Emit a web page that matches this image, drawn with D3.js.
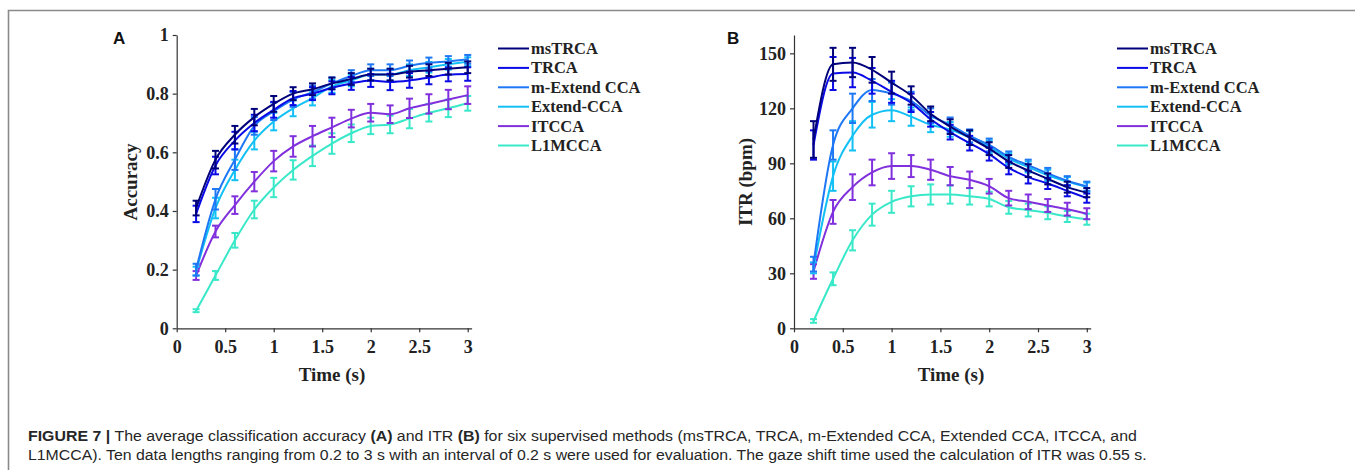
<!DOCTYPE html>
<html><head><meta charset="utf-8">
<script src="https://cdn.jsdelivr.net/npm/d3@7"></script>
<style>html,body{margin:0;padding:0;background:#fff;}svg{display:block;}</style>
</head><body>
<svg id="chart" width="1355" height="470"></svg>
<script>
const times = [0.2,0.4,0.6,0.8,1.0,1.2,1.4,1.6,1.8,2.0,2.2,2.4,2.6,2.8,3.0];
const methods = ["msTRCA","TRCA","m-Extend CCA","Extend-CCA","ITCCA","L1MCCA"];
const colors = ["#00007a","#0a0ae6","#1e78f5","#12c0f5","#8030dc","#38e8c8"];

// Panel A: accuracy
const accMsTRCA = [0.41,0.575,0.66,0.72,0.765,0.80,0.815,0.835,0.85,0.865,0.865,0.875,0.88,0.885,0.89];
const accTRCA   = [0.39,0.555,0.64,0.70,0.745,0.785,0.80,0.82,0.835,0.845,0.84,0.845,0.855,0.865,0.867];
const accMExt   = [0.20,0.44,0.575,0.69,0.74,0.78,0.805,0.835,0.86,0.88,0.88,0.895,0.905,0.91,0.917];
const accExt    = [0.195,0.41,0.54,0.64,0.705,0.75,0.785,0.825,0.845,0.865,0.865,0.88,0.89,0.90,0.909];
const accITCCA  = [0.18,0.33,0.42,0.50,0.57,0.62,0.655,0.685,0.715,0.735,0.73,0.75,0.765,0.78,0.795];
const accL1MCCA = [0.06,0.18,0.30,0.405,0.48,0.54,0.588,0.63,0.665,0.69,0.695,0.715,0.735,0.75,0.767];
const accErrMsTRCA = [0.025,0.03,0.03,0.028,0.027,0.022,0.02,0.02,0.02,0.02,0.02,0.02,0.02,0.02,0.02];
const accErrTRCA   = [0.028,0.03,0.03,0.028,0.027,0.024,0.022,0.022,0.022,0.022,0.028,0.025,0.023,0.023,0.023];
const accErrMExt   = [0.02,0.035,0.035,0.03,0.03,0.025,0.022,0.02,0.02,0.02,0.02,0.018,0.018,0.018,0.015];
const accErrExt    = [0.015,0.035,0.035,0.03,0.03,0.027,0.025,0.022,0.02,0.02,0.02,0.02,0.018,0.018,0.015];
const accErrITCCA  = [0.015,0.02,0.03,0.033,0.035,0.035,0.035,0.033,0.03,0.03,0.03,0.033,0.033,0.033,0.03];
const accErrL1MCCA = [0.005,0.015,0.025,0.03,0.033,0.033,0.035,0.035,0.03,0.028,0.03,0.033,0.03,0.03,0.025];

// Panel B: ITR (bpm)
const itrMsTRCA = [103,144,145,141,134,127,117,110,104,98,91,86,81.5,77,74];
const itrTRCA   = [100,139,139.5,135,129,123,114,107,101,95,87.5,82.5,79,75,71];
const itrMExt   = [35,100,120,130,128,124,116,111,105,100,93.5,89,84.5,80.5,77.5];
const itrExt    = [33,83,105,116.5,119,115.5,111,108.5,104,99,92.5,88,83.5,80,77];
const itrITCCA  = [31,63.5,77,85,88.5,88.5,86.5,83,81,77.5,71,69,67,65,62.5];
const itrL1MCCA = [4,27,48,62,69,72,73,73,72,70.5,66,64.5,63,61,59.5];
const itrErrMsTRCA = [10,9,8,7,6,5,4,4,4,3.5,3.5,3.5,3,3,2.5];
const itrErrTRCA   = [8,9,8,7,6,5,4,4,4,3.5,3.5,3.5,3,3,2.5];
const itrErrMExt   = [4,8,8,6,6,5,4,4,3.5,3.5,3,3,3,2.5,2.5];
const itrErrExt    = [3,8,8,7,6,5,4,4,3.5,3.5,3,3,3,2.5,2.5];
const itrErrITCCA  = [4,6.5,7,7,7,6,5.5,5,4.5,4,4,4,3.5,3.5,3];
const itrErrL1MCCA = [1,3.5,5.5,6,6,5.5,5.5,5,4.5,4,3.5,3.5,3.5,3,3];

const xTicks = [0,0.5,1,1.5,2,2.5,3];
const xTickLabels = ["0","0.5","1","1.5","2","2.5","3"];
const accTicks = [0,0.2,0.4,0.6,0.8,1];
const accTickLabels = ["0","0.2","0.4","0.6","0.8","1"];
const itrTicks = [0,30,60,90,120,150];
const itrTickLabels = ["0","30","60","90","120","150"];

const svg = d3.select("#chart");
const serif = "'Liberation Serif','Times New Roman',serif";
const sans = "'Liberation Sans',Arial,sans-serif";

// frame
svg.append("path").attr("d", d3.line()([[8.5,470],[8.5,10.5],[1355,10.5]]))
  .attr("fill","none").attr("stroke","#8a8a8a").attr("stroke-width",1.6);

function panel(opts){
  const g = svg.append("g");
  const x = d3.scaleLinear().domain([0,3.04]).range(opts.xr);
  const y = d3.scaleLinear().domain(opts.yd).range(opts.yr);
  const xAxis = d3.axisBottom(x).tickValues(xTicks).tickFormat((d,i)=>xTickLabels[i]).tickSize(4).tickPadding(4).tickSizeOuter(0);
  const yAxis = d3.axisLeft(y).tickValues(opts.yTicks).tickFormat((d,i)=>opts.yLabels[i]).tickSize(4).tickPadding(4).tickSizeOuter(0);
  const gx = g.append("g").attr("transform",`translate(0,${opts.yr[0]})`).call(xAxis);
  const gy = g.append("g").attr("transform",`translate(${opts.xr[0]},0)`).call(yAxis);
  [gx,gy].forEach(a=>{
    a.selectAll("path,line").attr("stroke","#333").attr("stroke-width",1.2);
    a.selectAll("text").attr("font-family",serif).attr("font-weight","bold").attr("font-size",18).attr("fill","#222");
  });
  gx.selectAll("text").attr("dy","0.95em");
  // series
  const line = d3.line().x((d,i)=>x(times[i])).y(d=>y(d)).curve(d3.curveMonotoneX);
  const order = [5,4,3,2,1,0];
  order.forEach(k=>{
    const vals = opts.series[k], errs = opts.errs[k], c = colors[k];
    g.append("path").datum(vals).attr("d",line).attr("fill","none").attr("stroke",c).attr("stroke-width",2);
    const eb = g.append("g").attr("stroke",c).attr("stroke-width",2);
    vals.forEach((v,i)=>{
      const cx = x(times[i]), t = y(v+errs[i]), b = y(v-errs[i]);
      eb.append("line").attr("x1",cx).attr("x2",cx).attr("y1",t).attr("y2",b);
      eb.append("line").attr("x1",cx-3.5).attr("x2",cx+3.5).attr("y1",t).attr("y2",t);
      eb.append("line").attr("x1",cx-3.5).attr("x2",cx+3.5).attr("y1",b).attr("y2",b);
    });
  });
  // axis titles
  g.append("text").attr("x",opts.xTitleX).attr("y",381).attr("text-anchor","middle")
    .attr("font-family",serif).attr("font-weight","bold").attr("font-size",19).attr("fill","#222").text("Time (s)");
  g.append("text").attr("transform",`translate(${opts.yTitleX},182) rotate(-90)`).attr("text-anchor","middle")
    .attr("font-family",serif).attr("font-weight","bold").attr("font-size",19).attr("fill","#222").text(opts.yTitle);
  // panel letter
  g.append("text").attr("x",opts.letterX).attr("y",44).attr("font-family",sans).attr("font-weight","bold")
    .attr("font-size",17).attr("fill","#111").text(opts.letter);
  // legend
  const lg = g.append("g");
  methods.forEach((m,k)=>{
    const ly = 48.5 + k*19.4;
    lg.append("line").attr("x1",opts.legX).attr("x2",opts.legX+31).attr("y1",ly).attr("y2",ly)
      .attr("stroke",colors[k]).attr("stroke-width",2);
    lg.append("text").attr("x",opts.legX+33).attr("y",ly+5.5).attr("font-family",serif).attr("font-weight","bold")
      .attr("font-size",16.5).attr("fill","#222").text(m);
  });
}

panel({xr:[176.7,471.6], yd:[0,1], yr:[328.3,35], yTicks:accTicks, yLabels:accTickLabels,
  series:[accMsTRCA,accTRCA,accMExt,accExt,accITCCA,accL1MCCA],
  errs:[accErrMsTRCA,accErrTRCA,accErrMExt,accErrExt,accErrITCCA,accErrL1MCCA],
  xTitleX:332, yTitleX:137, yTitle:"Accuracy", letter:"A", letterX:113, legX:498});
panel({xr:[794,1090.7], yd:[0,160], yr:[328.3,35], yTicks:itrTicks, yLabels:itrTickLabels,
  series:[itrMsTRCA,itrTRCA,itrMExt,itrExt,itrITCCA,itrL1MCCA],
  errs:[itrErrMsTRCA,itrErrTRCA,itrErrMExt,itrErrExt,itrErrITCCA,itrErrL1MCCA],
  xTitleX:951, yTitleX:752, yTitle:"ITR (bpm)", letter:"B", letterX:727, legX:1117});

// caption
function captionLine(parts, x, yb, target){
  const t = svg.append("text").attr("font-family",sans).attr("font-size",15.5).attr("fill","#262626");
  parts.forEach(p=>t.append("tspan").attr("font-weight",p[1]?"bold":"normal").text(p[0]));
  const w = t.node().getComputedTextLength();
  t.attr("transform",`translate(${x},${yb}) scale(${target/w},1)`);
}
captionLine([["FIGURE 7 | ",true],["The average classification accuracy ",false],["(A)",true],[" and ITR ",false],["(B)",true],
  [" for six supervised methods (msTRCA, TRCA, m-Extended CCA, Extended CCA, ITCCA, and",false]], 28, 441, 1109);
captionLine([["L1MCCA). Ten data lengths ranging from 0.2 to 3 s with an interval of 0.2 s were used for evaluation. The gaze shift time used the calculation of ITR was 0.55 s.",false]], 28, 460, 1120);
</script>
</body></html>
